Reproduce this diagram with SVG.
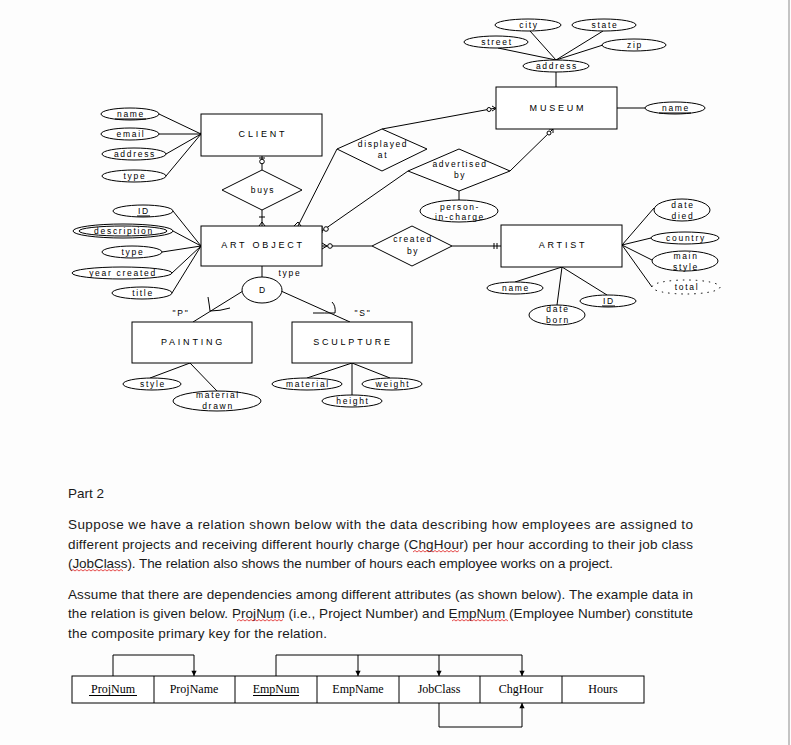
<svg xmlns="http://www.w3.org/2000/svg" width="791" height="745" viewBox="0 0 791 745">
<defs>
<style>
.b{fill:#fff;stroke:#000;stroke-width:1}
.l{fill:none;stroke:#000;stroke-width:1}
.t{font-family:"Liberation Sans",Arial,sans-serif;font-size:8.5px;letter-spacing:1.7px;text-anchor:middle;fill:#000}
.d{font-family:"Liberation Sans",Arial,sans-serif;font-size:8.5px;letter-spacing:1.6px;text-anchor:middle;fill:#000}
.e{font-family:"Liberation Sans",Arial,sans-serif;font-size:9px;letter-spacing:2.8px;text-anchor:middle;fill:#000}
.p{font-family:"Liberation Sans",Arial,sans-serif;font-size:13.5px;fill:#1a1a1a}
.s{font-family:"Liberation Serif","Times New Roman",serif;font-size:12px;text-anchor:middle;fill:#000}
.sq{fill:none;stroke:#e02020;stroke-width:0.8}
</style>
<marker id="ar" viewBox="0 0 6 8" refX="6" refY="4" markerWidth="6" markerHeight="7" orient="auto" markerUnits="userSpaceOnUse">
<path d="M0,1 L6,4 L0,7 Z" fill="#000"/>
</marker>
</defs>
<rect x="0" y="0" width="791" height="745" fill="#fdfdfd"/>
<line x1="789" y1="0" x2="789" y2="745" stroke="#c4c4c4" stroke-width="2"/>

<g id="connectors" class="l">
<line x1="530" y1="31" x2="556" y2="60"/>
<line x1="603" y1="31" x2="556" y2="60"/>
<line x1="498" y1="48" x2="556" y2="60"/>
<line x1="603" y1="45" x2="556" y2="60"/>
<line x1="556" y1="72" x2="556" y2="87"/>
<line x1="617" y1="108" x2="645" y2="108"/>
<line x1="159" y1="114" x2="201" y2="134"/>
<line x1="159" y1="134" x2="201" y2="134"/>
<line x1="166" y1="154" x2="201" y2="134"/>
<line x1="166" y1="176" x2="201" y2="134"/>
<line x1="173" y1="211" x2="201" y2="246"/>
<line x1="173" y1="231" x2="201" y2="246"/>
<line x1="162" y1="252" x2="201" y2="246"/>
<line x1="172" y1="273" x2="201" y2="246"/>
<line x1="172" y1="293" x2="201" y2="246"/>
<circle cx="201" cy="134" r="1" fill="#000"/>
<circle cx="201" cy="246" r="1" fill="#000"/>
<line x1="262" y1="156" x2="262" y2="170"/>
<line x1="259" y1="158" x2="265" y2="158"/>
<circle cx="262" cy="161.5" r="2.3" fill="#fff"/>
<line x1="262" y1="210" x2="262" y2="226"/>
<line x1="259" y1="217" x2="265" y2="217"/>
<path d="M259,226 L262,222 L265,226"/>
<line x1="382" y1="129" x2="496" y2="108"/>
<circle cx="489" cy="109.5" r="2" fill="#fff"/>
<path d="M492,106 L496,108.5 L492,111"/>
<line x1="337" y1="149" x2="298" y2="226"/>
<path d="M294,226 L298,222 L301,226"/>
<line x1="510" y1="171" x2="553" y2="129"/>
<circle cx="549" cy="133" r="2" fill="#fff"/>
<path d="M549,129 L553,129 L553,133"/>
<line x1="408" y1="171" x2="322" y2="231"/>
<circle cx="326" cy="229" r="2.3" fill="#fff"/>
<line x1="322" y1="226" x2="322" y2="233"/>
<line x1="459" y1="191" x2="459" y2="200"/>
<line x1="322" y1="246" x2="372" y2="246"/>
<path d="M322,243 L327,246 L322,249"/>
<circle cx="330" cy="246" r="2.3" fill="#fff"/>
<line x1="452" y1="246" x2="501" y2="246"/>
<line x1="494" y1="243" x2="494" y2="249"/>
<line x1="497" y1="243" x2="497" y2="249"/>
<line x1="622" y1="245" x2="654" y2="208"/>
<line x1="622" y1="245" x2="651" y2="238"/>
<line x1="622" y1="245" x2="652" y2="260"/>
<line x1="622" y1="245" x2="652" y2="287"/>
<line x1="562" y1="267" x2="515" y2="282"/>
<line x1="562" y1="267" x2="557" y2="305"/>
<line x1="562" y1="267" x2="607" y2="295"/>
<line x1="262" y1="266" x2="262" y2="277"/>
<line x1="243" y1="291" x2="193" y2="322"/>
<path d="M208,297 Q209.5,306 210,311 Q220,311 230,308"/>
<line x1="281" y1="291" x2="350" y2="322"/>
<path d="M332,302 Q336,306 335,313 Q325,313 313,313"/>
<line x1="190" y1="363" x2="150" y2="378"/>
<line x1="190" y1="363" x2="217" y2="391"/>
<line x1="352" y1="363" x2="307" y2="378"/>
<line x1="352" y1="363" x2="352" y2="395"/>
<line x1="352" y1="363" x2="390" y2="378"/>
<path d="M113,676 V655 H194 V676" marker-end="url(#ar)"/>
<path d="M276,676 V655 H522 V676" marker-end="url(#ar)"/>
<path d="M358,655 V676" marker-end="url(#ar)"/>
<path d="M439,655 V676" marker-end="url(#ar)"/>
<path d="M439,703 V727 H522 V703" marker-end="url(#ar)"/>
</g>

<g id="museum"><rect class="b" x="496" y="87" width="121" height="42"/><text class="e" x="558" y="111">MUSEUM</text></g>
<g id="museum-name"><ellipse class="b" cx="675" cy="108" rx="30" ry="6"/><text class="t" x="676" y="111">name</text><line class="l" x1="659" y1="113" x2="691" y2="113"/></g>
<g id="address"><ellipse class="b" cx="556" cy="66" rx="33" ry="6"/><text class="t" x="557" y="69">address</text></g>
<g id="city"><ellipse class="b" cx="528" cy="25" rx="33" ry="6"/><text class="t" x="529" y="28">city</text></g>
<g id="state"><ellipse class="b" cx="604" cy="25" rx="32" ry="6"/><text class="t" x="605" y="28">state</text></g>
<g id="street"><ellipse class="b" cx="496" cy="42" rx="32" ry="6"/><text class="t" x="497" y="45">street</text></g>
<g id="zip"><ellipse class="b" cx="634" cy="45" rx="32" ry="6"/><text class="t" x="635" y="48">zip</text></g>

<g id="client"><rect class="b" x="201" y="114" width="121" height="42"/><text class="e" x="263" y="137">CLIENT</text></g>
<g id="client-name"><ellipse class="b" cx="130" cy="114" rx="29" ry="6"/><text class="t" x="131" y="117">name</text><line class="l" x1="115" y1="119" x2="146" y2="119"/></g>
<g id="client-email"><ellipse class="b" cx="130" cy="134" rx="29" ry="6"/><text class="t" x="131" y="137">email</text></g>
<g id="client-address"><ellipse class="b" cx="134" cy="154" rx="32" ry="6"/><text class="t" x="135" y="157">address</text></g>
<g id="client-type"><ellipse class="b" cx="134" cy="176" rx="32" ry="6"/><text class="t" x="135" y="179">type</text></g>

<g id="buys"><polygon class="b" points="222,190 262,170 302,190 262,210"/><text class="d" x="263" y="193">buys</text></g>
<g id="displayed-at"><polygon class="b" points="337,149 382,129 427,149 382,171"/><text class="d" x="383" y="147">displayed</text><text class="d" x="383" y="158">at</text></g>
<g id="advertised-by"><polygon class="b" points="408,171 459,149 510,171 459,191"/><text class="d" x="460" y="167">advertised</text><text class="d" x="460" y="178">by</text></g>
<g id="person-in-charge"><ellipse class="b" cx="459" cy="211" rx="39" ry="11"/><text class="d" x="460" y="210">person-</text><text class="d" x="460" y="220">in-charge</text></g>
<g id="created-by"><polygon class="b" points="372,246 412,226 452,246 412,266"/><text class="d" x="413" y="242">created</text><text class="d" x="413" y="254">by</text></g>

<g id="art-object"><rect class="b" x="201" y="226" width="121" height="40"/><text class="e" x="263" y="248">ART OBJECT</text></g>
<g id="ao-id"><ellipse class="b" cx="143" cy="211" rx="30" ry="6"/><text class="t" x="144" y="214">ID</text><line class="l" x1="137" y1="216" x2="150" y2="216"/></g>
<g id="ao-description"><ellipse class="b" cx="123" cy="231" rx="50" ry="7"/><ellipse class="b" cx="123" cy="231" rx="44" ry="5"/><text class="t" x="124" y="234">description</text></g>
<g id="ao-type"><ellipse class="b" cx="132" cy="252" rx="30" ry="6"/><text class="t" x="133" y="255">type</text></g>
<g id="ao-year"><ellipse class="b" cx="122" cy="273" rx="50" ry="6"/><text class="t" x="123" y="276">year created</text></g>
<g id="ao-title"><ellipse class="b" cx="142" cy="293" rx="30" ry="6"/><text class="t" x="143" y="296">title</text></g>

<g id="artist"><rect class="b" x="501" y="225" width="121" height="42"/><text class="e" x="563" y="248">ARTIST</text></g>
<g id="date-died"><ellipse class="b" cx="682" cy="210" rx="28" ry="11"/><text class="t" x="683" y="208">date</text><text class="t" x="683" y="219">died</text></g>
<g id="country"><ellipse class="b" cx="685" cy="238" rx="34" ry="6"/><text class="t" x="686" y="241">country</text></g>
<g id="main-style"><ellipse class="b" cx="685" cy="261" rx="33" ry="10"/><text class="t" x="686" y="259">main</text><text class="t" x="686" y="270">style</text></g>
<g id="total"><ellipse cx="686" cy="287" rx="34" ry="7" fill="#fff" stroke="#000" stroke-width="1" stroke-dasharray="1.5 5"/><text class="t" x="687" y="290">total</text></g>
<g id="artist-name"><ellipse class="b" cx="515" cy="288" rx="28" ry="6"/><text class="t" x="516" y="291">name</text></g>
<g id="date-born"><ellipse class="b" cx="557" cy="315" rx="28" ry="10"/><text class="t" x="558" y="312">date</text><text class="t" x="558" y="323">born</text></g>
<g id="artist-id"><ellipse class="b" cx="608" cy="301" rx="28" ry="6"/><text class="t" x="609" y="304">ID</text><line class="l" x1="602" y1="306" x2="615" y2="306"/></g>

<g id="disjoint"><ellipse class="b" cx="262" cy="290" rx="20" ry="13"/><text class="t" x="263" y="293">D</text><text class="t" x="290" y="276">type</text></g>
<text class="t" x="181" y="316">"P"</text>
<text class="t" x="363" y="316">"S"</text>

<g id="painting"><rect class="b" x="132" y="322" width="120" height="41"/><text class="e" x="193" y="345">PAINTING</text></g>
<g id="painting-style"><ellipse class="b" cx="152" cy="384" rx="29" ry="6"/><text class="t" x="153" y="387">style</text></g>
<g id="material-drawn"><ellipse class="b" cx="217" cy="401" rx="44" ry="10"/><text class="t" x="218" y="398">material</text><text class="t" x="218" y="409">drawn</text></g>

<g id="sculpture"><rect class="b" x="292" y="322" width="120" height="41"/><text class="e" x="353" y="345">SCULPTURE</text></g>
<g id="material"><ellipse class="b" cx="307" cy="384" rx="35" ry="6"/><text class="t" x="308" y="387">material</text></g>
<g id="weight"><ellipse class="b" cx="392" cy="384" rx="30" ry="6"/><text class="t" x="393" y="387">weight</text></g>
<g id="height"><ellipse class="b" cx="352" cy="401" rx="30" ry="6"/><text class="t" x="353" y="404">height</text></g>

<g id="part2-text">
<text class="p" x="68" y="498">Part 2</text>
<text class="p" x="68" y="529" textLength="625" lengthAdjust="spacing">Suppose we have a relation shown below with the data describing how employees are assigned to</text>
<text class="p" x="68" y="549" textLength="625" lengthAdjust="spacing">different projects and receiving different hourly charge (ChgHour) per hour according to their job class</text>
<text class="p" x="68" y="568" textLength="545" lengthAdjust="spacing">(JobClass). The relation also shows the number of hours each employee works on a project.</text>
<text class="p" x="68" y="599" textLength="625" lengthAdjust="spacing">Assume that there are dependencies among different attributes (as shown below). The example data in</text>
<text class="p" x="68" y="618" textLength="625" lengthAdjust="spacing">the relation is given below. ProjNum (i.e., Project Number) and EmpNum (Employee Number) constitute</text>
<text class="p" x="68" y="638" textLength="259" lengthAdjust="spacing">the composite primary key for the relation.</text>
<path class="sq" d="M413,552 l2,-1.5 l2,1.5 l2,-1.5 l2,1.5 l2,-1.5 l2,1.5 l2,-1.5 l2,1.5 l2,-1.5 l2,1.5 l2,-1.5 l2,1.5 l2,-1.5 l2,1.5 l2,-1.5 l2,1.5 l2,-1.5 l2,1.5 l2,-1.5 l2,1.5 l2,-1.5 l2,1.5 l2,-1.5"/>
<path class="sq" d="M71,571 l2,-1.5 l2,1.5 l2,-1.5 l2,1.5 l2,-1.5 l2,1.5 l2,-1.5 l2,1.5 l2,-1.5 l2,1.5 l2,-1.5 l2,1.5 l2,-1.5 l2,1.5 l2,-1.5 l2,1.5 l2,-1.5 l2,1.5 l2,-1.5 l2,1.5 l2,-1.5 l2,1.5 l2,-1.5 l2,1.5 l2,-1.5 l2,1.5"/>
<path class="sq" d="M237,621 l2,-1.5 l2,1.5 l2,-1.5 l2,1.5 l2,-1.5 l2,1.5 l2,-1.5 l2,1.5 l2,-1.5 l2,1.5 l2,-1.5 l2,1.5 l2,-1.5 l2,1.5 l2,-1.5 l2,1.5 l2,-1.5 l2,1.5 l2,-1.5 l2,1.5 l2,-1.5 l2,1.5 l2,-1.5"/>
<path class="sq" d="M452,621 l2,-1.5 l2,1.5 l2,-1.5 l2,1.5 l2,-1.5 l2,1.5 l2,-1.5 l2,1.5 l2,-1.5 l2,1.5 l2,-1.5 l2,1.5 l2,-1.5 l2,1.5 l2,-1.5 l2,1.5 l2,-1.5 l2,1.5 l2,-1.5 l2,1.5 l2,-1.5 l2,1.5 l2,-1.5 l2,1.5 l2,-1.5 l2,1.5 l2,-1.5 l2,1.5"/>
</g>

<g id="relation-table">
<rect class="b" x="72" y="676" width="572" height="27"/>
<line class="l" x1="154" y1="676" x2="154" y2="703"/>
<line class="l" x1="235" y1="676" x2="235" y2="703"/>
<line class="l" x1="317" y1="676" x2="317" y2="703"/>
<line class="l" x1="399" y1="676" x2="399" y2="703"/>
<line class="l" x1="480" y1="676" x2="480" y2="703"/>
<line class="l" x1="562" y1="676" x2="562" y2="703"/>
<text class="s" x="113" y="693">ProjNum</text>
<line class="l" x1="89" y1="695.5" x2="137" y2="695.5"/>
<text class="s" x="194" y="693">ProjName</text>
<text class="s" x="276" y="693">EmpNum</text>
<line class="l" x1="253" y1="695.5" x2="299" y2="695.5"/>
<text class="s" x="358" y="693">EmpName</text>
<text class="s" x="439" y="693">JobClass</text>
<text class="s" x="521" y="693">ChgHour</text>
<text class="s" x="603" y="693">Hours</text>
</g>
</svg>
